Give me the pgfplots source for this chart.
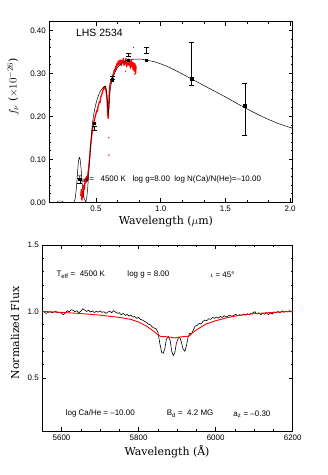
\documentclass[border=0pt]{standalone}
\usepackage{fontspec}
\setmainfont{Liberation Sans}
\newfontfamily\labfont{DejaVu Serif}
\usepackage{pgfplots}
\pgfplotsset{compat=1.18}

\pgfplotsset{
  panel/.style={
    scale only axis, anchor=south west, clip=false,
    axis line style={black, line width=0.6pt},
    tick align=inside, xtick pos=both, ytick pos=both,
    xticklabel pos=lower, yticklabel pos=left,
    major tick length=4bp, minor tick length=2bp,
    every tick/.style={black, line width=0.5pt},
    tick label style={font=\fontsize{8}{9}\selectfont},
    /pgf/number format/assume math mode=true,
  },
}
\tikzset{anno/.style={anchor=west, font=\fontsize{8}{9}\selectfont}}

\begin{document}
\begin{tikzpicture}[x=1bp,y=1bp]
\path[use as bounding box] (0,0) rectangle (327,475);

% ---------- top panel: SED ----------
\begin{axis}[panel,
  at={(49.3bp,272.7bp)}, width=243.4bp, height=180.6bp,
  xmin=0.14, xmax=2.02, ymin=0, ymax=0.42,
  xtick={0.5,1.0,1.5,2.0}, minor x tick num=2,
  ytick={0,0.1,0.2,0.3,0.4}, minor y tick num=4,
  xticklabel style={/pgf/number format/.cd, fixed, fixed zerofill, precision=1},
  yticklabel style={/pgf/number format/.cd, fixed, fixed zerofill, precision=2},
]
% observed spectrum (red)
\addplot[red, line width=1.3pt, line join=round] coordinates {
(0.383,0.015) (0.388,0.030) (0.392,0.005) (0.397,0.025) (0.402,0.012)
(0.407,0.040) (0.412,0.030) (0.417,0.055) (0.422,0.045) (0.427,0.060)
(0.432,0.050) (0.437,0.062) (0.442,0.075) (0.447,0.090) (0.452,0.105)
(0.457,0.125) (0.462,0.140) (0.467,0.155) (0.472,0.165) (0.477,0.175)
(0.482,0.185) (0.487,0.190) (0.492,0.196) (0.497,0.202) (0.502,0.208)
(0.507,0.214) (0.512,0.212) (0.517,0.224) (0.522,0.228) (0.527,0.234)
(0.532,0.232) (0.537,0.244) (0.542,0.248) (0.547,0.252) (0.552,0.258)
(0.557,0.262) (0.562,0.268) (0.567,0.264) (0.572,0.270) (0.577,0.262)
(0.582,0.250) (0.587,0.232) (0.591,0.205) (0.595,0.195) (0.599,0.225)
(0.603,0.255) (0.607,0.270) (0.612,0.278) (0.617,0.284) (0.622,0.282)
(0.627,0.292) (0.632,0.296) (0.637,0.300) (0.642,0.308) (0.647,0.305)
(0.652,0.316) (0.657,0.312) (0.662,0.322) (0.667,0.318) (0.672,0.328)
(0.677,0.320) (0.682,0.330) (0.687,0.322) (0.692,0.331) (0.697,0.318)
(0.702,0.330) (0.707,0.325) (0.712,0.334) (0.717,0.318) (0.722,0.328)
(0.727,0.322) (0.732,0.335) (0.737,0.315) (0.742,0.326) (0.747,0.320)
(0.752,0.333) (0.757,0.318) (0.762,0.327) (0.767,0.312) (0.772,0.330)
(0.777,0.316) (0.782,0.326) (0.787,0.308) (0.792,0.324) (0.797,0.305)
(0.802,0.322) (0.807,0.300) (0.810,0.318)
};
\addplot[red, only marks, mark=*, mark size=0.4pt] coordinates {
(0.790,0.360) (0.730,0.305) (0.800,0.298) (0.600,0.150) (0.600,0.110) (0.770,0.345)
};
% model (black)
\addplot[black, line width=0.5pt, line join=round] coordinates {
(0.14,0) (0.20,0) (0.21,0.003) (0.24,0.003) (0.25,0) (0.33,0) (0.34,0.008)
(0.35,0.035) (0.358,0.070) (0.365,0.095) (0.372,0.105) (0.378,0.100)
(0.385,0.080) (0.392,0.050) (0.400,0.025) (0.410,0.008) (0.422,0.0)
(0.430,0.012) (0.437,0.035) (0.445,0.070) (0.452,0.100) (0.460,0.135)
(0.468,0.168) (0.475,0.188) (0.482,0.202) (0.490,0.216) (0.500,0.229)
(0.510,0.240) (0.520,0.249) (0.530,0.256) (0.540,0.261) (0.550,0.265)
(0.560,0.268) (0.570,0.270) (0.578,0.266) (0.585,0.252) (0.590,0.230)
(0.595,0.205) (0.600,0.215) (0.606,0.245) (0.612,0.265) (0.620,0.278)
(0.630,0.289) (0.640,0.297) (0.650,0.304) (0.665,0.312) (0.680,0.318)
(0.700,0.323) (0.720,0.327) (0.740,0.330) (0.760,0.331) (0.780,0.332)
(0.800,0.333) (0.850,0.333) (0.900,0.330) (0.950,0.327) (1.00,0.322)
(1.05,0.316) (1.10,0.309) (1.15,0.301) (1.20,0.293) (1.25,0.285)
(1.30,0.277) (1.40,0.261) (1.50,0.245) (1.60,0.228) (1.70,0.212)
(1.80,0.197) (1.90,0.184) (2.02,0.172)
};
% observed photometry (error bars only)
\addplot[draw=none, mark=none,
  error bars/.cd, y dir=both, y explicit,
  error bar style={draw=black, line width=0.5pt},
  error mark options={draw=black, rotate=90, mark size=2.5pt, line width=0.5pt}]
  coordinates {
(0.376,0.050) +- (0,0.006)
(0.487,0.172) +- (0,0.004)
(0.626,0.290) +- (0,0.004)
(0.750,0.343) +- (0,0.004)
(0.887,0.353) +- (0,0.007)
(1.240,0.323) +- (0,0.050)
(1.650,0.216) +- (0,0.061)
};
% synthetic photometry (dots)
\addplot[black, only marks, mark=square*, mark size=1.3pt] coordinates {
(0.376,0.054) (0.487,0.184) (0.626,0.285) (0.750,0.330) (0.887,0.330)
(1.240,0.287) (1.650,0.225)
};
\node[anchor=west, font=\fontsize{10.5}{12}\selectfont] at (axis cs:0.32,0.394) {LHS 2534};
\node[anno] at (axis cs:0.33,0.054)
  {T\textsubscript{eff}= \ \ 4500 K \ \ log g=8.00 \ log N(Ca)/N(He)=--10.00};
\node[rotate=90, font=\labfont\fontsize{11}{13}\selectfont] at (rel axis cs:-0.149,0.638)
  {$f_\nu$ ($\times10^{-26}$)};
\node[font=\labfont\fontsize{11}{13}\selectfont] at (rel axis cs:0.479,-0.107)
  {Wavelength ($\mu$m)};
\end{axis}

% ---------- bottom panel: line profile ----------
\begin{axis}[panel,
  at={(42.3bp,44bp)}, width=250.4bp, height=186bp,
  xmin=5550, xmax=6200, ymin=0.1, ymax=1.5,
  xtick={5600,5800,6000,6200}, minor x tick num=3,
  ytick={0.5,1.0,1.5}, minor y tick num=4,
  xticklabel style={/pgf/number format/.cd, fixed, set thousands separator={}},
  yticklabel style={/pgf/number format/.cd, fixed, fixed zerofill, precision=1},
]
\addplot[black, line width=0.6pt] coordinates {
(5550,1.005) (5555,0.995) (5560,0.985) (5565,0.992) (5570,0.998) (5575,0.990)
(5580,0.995) (5585,1.000) (5590,0.990) (5595,0.995) (5600,0.985) (5605,0.975)
(5610,0.990) (5615,1.005) (5620,0.998) (5625,1.012) (5630,1.008) (5635,0.998)
(5640,1.005) (5645,0.990) (5650,1.002) (5655,1.020) (5660,1.010) (5665,1.000)
(5670,1.008) (5675,0.996) (5680,1.003) (5685,0.992) (5690,1.000) (5695,0.995)
(5700,1.004) (5705,0.993) (5710,0.998) (5715,0.985) (5720,0.995) (5725,1.002)
(5730,0.990) (5735,1.006) (5740,0.995) (5745,0.985) (5750,0.990) (5755,0.975)
(5760,0.985) (5765,0.970) (5770,0.978) (5775,0.965) (5780,0.972) (5785,0.958)
(5790,0.962) (5795,0.948) (5800,0.955) (5805,0.940) (5810,0.935) (5815,0.925)
(5820,0.918) (5825,0.905) (5830,0.900) (5835,0.885) (5840,0.875) (5845,0.870)
(5850,0.845) (5855,0.760) (5860,0.690) (5864,0.685) (5868,0.720) (5872,0.790)
(5877,0.810) (5882,0.780) (5886,0.700) (5890,0.668) (5894,0.690) (5898,0.760)
(5903,0.800) (5907,0.805) (5911,0.770) (5915,0.720) (5920,0.700) (5924,0.740)
(5928,0.800) (5932,0.835) (5937,0.830) (5942,0.860) (5947,0.890) (5952,0.895)
(5957,0.910) (5962,0.905) (5967,0.925) (5972,0.935) (5977,0.930) (5982,0.945)
(5987,0.940) (5992,0.955) (5997,0.948) (6002,0.958) (6007,0.950) (6012,0.962)
(6017,0.955) (6022,0.968) (6027,0.958) (6032,0.965) (6037,0.972) (6042,0.962)
(6047,0.970) (6052,0.978) (6057,0.968) (6062,0.975) (6067,0.970) (6072,0.980)
(6077,0.972) (6082,0.982) (6087,0.975) (6092,0.985) (6097,0.990) (6102,0.998)
(6107,0.980) (6112,0.990) (6117,0.975) (6122,0.985) (6127,0.980) (6132,0.990)
(6137,0.975) (6142,0.988) (6147,0.980) (6152,0.995) (6157,0.990) (6162,1.000)
(6167,0.990) (6172,1.005) (6177,0.995) (6182,1.002) (6187,0.998) (6192,1.006)
(6197,0.995) (6200,1.000)
};
\addplot[red, line width=0.9pt] coordinates {
(5550,1.000) (5600,0.993) (5650,0.984) (5700,0.972) (5750,0.955) (5780,0.940)
(5800,0.920) (5820,0.890) (5835,0.860) (5850,0.825) (5858,0.810) (5870,0.810)
(5885,0.805) (5893,0.800) (5900,0.805) (5915,0.810) (5930,0.812) (5940,0.840)
(5955,0.870) (5975,0.905) (6000,0.930) (6030,0.953) (6060,0.970) (6100,0.983)
(6150,0.993) (6200,1.000)
};
\node[anno] at (axis cs:5578,1.275) {T\textsubscript{eff} = \ 4500 K};
\node[anno] at (axis cs:5762,1.275) {log g = 8.00};
\node[anno] at (axis cs:5977,1.275) {$\iota$ = 45°};
\node[anno] at (axis cs:5602,0.23) {log Ca/He = --10.00};
\node[anno] at (axis cs:5864,0.23) {B\textsubscript{d} = \ 4.2 MG};
\node[anno] at (axis cs:6037,0.23) {a\textsubscript{z} = --0.30};
\node[rotate=90, font=\labfont\fontsize{11}{13}\selectfont] at (rel axis cs:-0.109,0.527)
  {Normalized Flux};
\node[font=\labfont\fontsize{11}{13}\selectfont] at (rel axis cs:0.498,-0.111)
  {Wavelength (Å)};
\end{axis}
\end{tikzpicture}
\end{document}
